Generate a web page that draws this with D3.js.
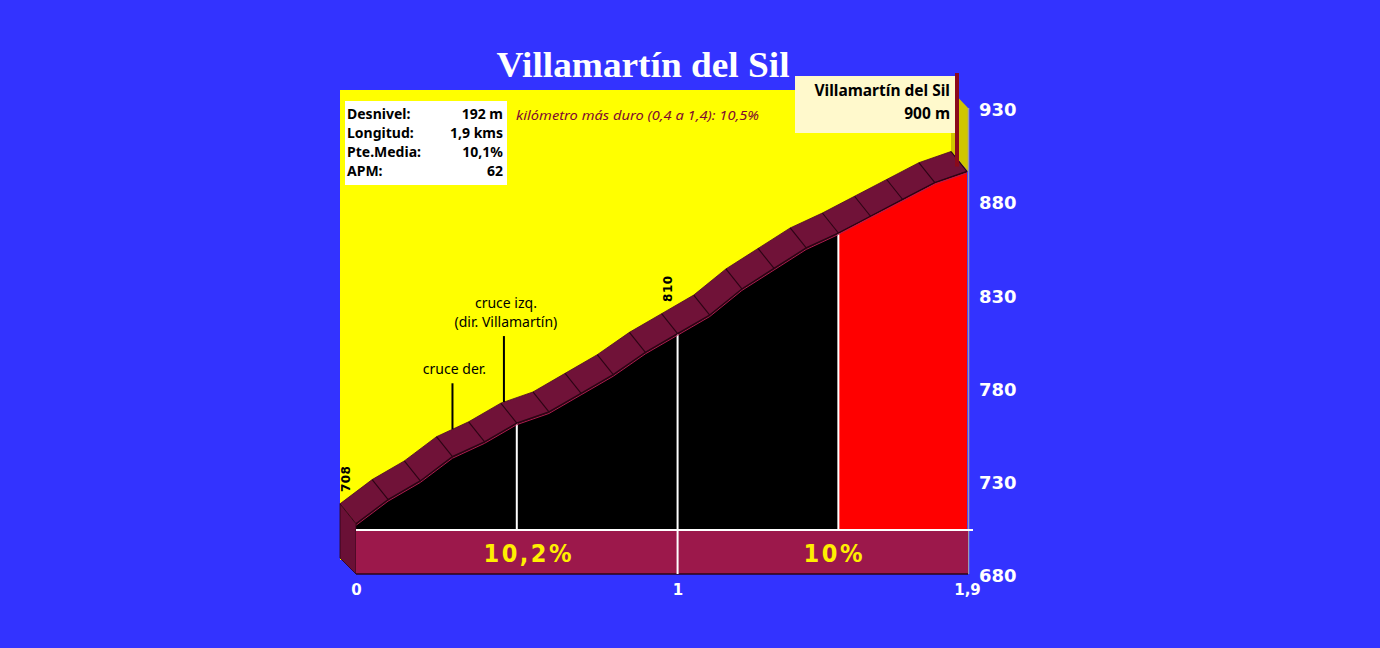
<!DOCTYPE html>
<html>
<head>
<meta charset="utf-8">
<script src="https://cdn.jsdelivr.net/npm/d3@7"></script>
<style>
  body { margin: 0; background: #3333ff; }
  svg { display: block; }
</style>
</head>
<body>
<svg id="chart" width="1380" height="648"></svg>
<script>
// profile data, every 100 m
var km = [0, 0.1, 0.2, 0.3, 0.4, 0.5, 0.6, 0.7, 0.8, 0.9, 1.0, 1.1, 1.2, 1.3, 1.4, 1.5, 1.6, 1.7, 1.8, 1.9];
var elev = [708, 721, 731, 744, 752, 762, 768, 778, 788, 800, 810, 820, 834, 845, 856, 864, 873, 882, 891, 897];

// coloured stretches of the front face
var segStart = [0, 1.5];
var segEnd = [1.5, 1.9];
var segColors = ['#000000', '#ff0000'];
var dividers = [0.5, 1, 1.5];

// grade labels on the base band
var gradeLabels = ['10,2%', '10%'];
var gradeFrom = [0, 1];
var gradeTo = [1, 1.9];

var yTicks = [680, 730, 780, 830, 880, 930];
var xTicks = [0, 1, 1.9];
var xTickLabels = ['0', '1', '1,9'];

var infoLabels = ['Desnivel:', 'Longitud:', 'Pte.Media:', 'APM:'];
var infoValues = ['192 m', '1,9 kms', '10,1%', '62'];

var noteKm = [0.3, 0.46];
var noteText = [['cruce der.'], ['cruce izq.', '(dir. Villamartín)']];

var markKm = [0, 1];
var markText = ['708', '810'];

var title = 'Villamartín del Sil';
var hardest = 'kilómetro más duro (0,4 a 1,4):  10,5%';
var summitName = 'Villamartín del Sil';
var summitAlt = '900 m';

var svg = d3.select('#chart');

var x = d3.scaleLinear().domain([0, 1.9]).range([356, 967]);
var y = d3.scaleLinear().domain([680, 930]).range([576, 110]);
var elevAt = d3.scaleLinear().domain(km).range(elev);

var dx = -16, dy = -20;
var bandTop = 530;
var bandBottom = y(680) - 2;
var pts = km.map(function(k, i) { return [x(k), y(elev[i])]; });
var last = pts[pts.length - 1];

svg.append('rect').attr('width', 1380).attr('height', 648).attr('fill', '#3333ff');

// back wall
svg.append('rect')
  .attr('x', 340).attr('y', 90)
  .attr('width', last[0] + dx - 340).attr('height', 470)
  .attr('fill', '#ffff00');

svg.append('polygon')
  .attr('points', [[last[0] + dx, 90], [last[0] + 1, 108], [last[0] + 1, last[1]], [last[0] + dx, last[1] + dy]].join(' '))
  .attr('fill', '#cfc600');

// front face areas
var area = d3.area()
  .x(function(d) { return x(d.k); })
  .y0(bandTop)
  .y1(function(d) { return y(d.e); });

segStart.forEach(function(s, i) {
  var seg = km.map(function(k, j) { return { k: k, e: elev[j] }; })
    .filter(function(d) { return d.k >= s - 1e-9 && d.k <= segEnd[i] + 1e-9; });
  svg.append('path')
    .attr('d', area(seg))
    .attr('fill', segColors[i]);
});

dividers.forEach(function(k) {
  svg.append('line')
    .attr('x1', x(k)).attr('x2', x(k))
    .attr('y1', y(elevAt(k))).attr('y2', bandTop)
    .attr('stroke', '#ffffff').attr('stroke-width', 2);
});

svg.append('line')
  .attr('x1', last[0] + 1.5).attr('x2', last[0] + 1.5)
  .attr('y1', 108).attr('y2', bandBottom)
  .attr('stroke', '#9a9ab0').attr('stroke-width', 1.5);

// top strip of the road
var back = pts.map(function(p) { return [p[0] + dx, p[1] + dy]; });
svg.append('polygon')
  .attr('points', pts.concat(back.slice().reverse()).join(' '))
  .attr('fill', '#701238')
  .attr('stroke', '#4a0a26').attr('stroke-width', 0.8);

pts.forEach(function(p, i) {
  if (i === 0) return;
  svg.append('line')
    .attr('x1', p[0]).attr('y1', p[1])
    .attr('x2', back[i][0]).attr('y2', back[i][1])
    .attr('stroke', '#2b0414').attr('stroke-width', 1.1);
});

var line = d3.line();
svg.append('path')
  .attr('d', line(pts))
  .attr('fill', 'none')
  .attr('stroke', '#2b0414').attr('stroke-width', 1.4);
svg.append('path')
  .attr('d', line(pts.map(function(p) { return [p[0], p[1] + 1.5]; })))
  .attr('fill', 'none')
  .attr('stroke', '#b01c50').attr('stroke-width', 1);

// left side
svg.append('polygon')
  .attr('points', [back[0], pts[0], [pts[0][0], bandBottom], [pts[0][0] + dx, bandBottom - 16]].join(' '))
  .attr('fill', '#6a1036')
  .attr('stroke', '#2b0414').attr('stroke-width', 0.8);

// base band
svg.append('rect')
  .attr('x', x(0)).attr('y', bandTop)
  .attr('width', x(1.9) - x(0) + 1).attr('height', bandBottom - bandTop)
  .attr('fill', '#9c184b');
svg.append('line')
  .attr('x1', x(0)).attr('x2', x(1.9) + 1)
  .attr('y1', bandBottom).attr('y2', bandBottom)
  .attr('stroke', '#2b0414').attr('stroke-width', 1.5);
svg.append('line')
  .attr('x1', x(0)).attr('x2', x(1.9) + 6)
  .attr('y1', bandTop).attr('y2', bandTop)
  .attr('stroke', '#ffffff').attr('stroke-width', 2);
svg.append('line')
  .attr('x1', x(1)).attr('x2', x(1))
  .attr('y1', bandTop).attr('y2', bandBottom)
  .attr('stroke', '#ffffff').attr('stroke-width', 2);

gradeLabels.forEach(function(t, i) {
  svg.append('text')
    .attr('x', x((gradeFrom[i] + gradeTo[i]) / 2) + 12)
    .attr('y', bandTop + 32)
    .attr('text-anchor', 'middle')
    .attr('font-family', 'DejaVu Sans Condensed, DejaVu Sans')
    .attr('font-weight', 'bold')
    .attr('font-size', 25)
    .attr('letter-spacing', 2.5)
    .attr('fill', '#ffee00')
    .text(t);
});

// axes
var yAxis = svg.append('g')
  .attr('transform', 'translate(979,0)')
  .call(d3.axisRight(y).tickValues(yTicks).tickSize(0).tickPadding(0));
yAxis.select('.domain').remove();
yAxis.selectAll('text')
  .attr('font-family', 'DejaVu Sans')
  .attr('font-weight', 'bold')
  .attr('font-size', 18)
  .attr('fill', '#ffffff');

var xAxis = svg.append('g')
  .attr('transform', 'translate(0,584)')
  .call(d3.axisBottom(x).tickValues(xTicks).tickSize(0).tickPadding(0)
    .tickFormat(function(d, i) { return xTickLabels[i]; }));
xAxis.select('.domain').remove();
xAxis.selectAll('text')
  .attr('font-family', 'DejaVu Sans')
  .attr('font-weight', 'bold')
  .attr('font-size', 15)
  .attr('fill', '#ffffff');

// rotated altitude marks
markKm.forEach(function(k, i) {
  var bx = x(k) + dx, by = y(elevAt(k)) + dy;
  svg.append('text')
    .attr('transform', 'translate(' + (bx + 6) + ',' + (by - 25) + ') rotate(-90)')
    .attr('text-anchor', 'middle')
    .attr('dy', '0.35em')
    .attr('font-family', 'DejaVu Sans')
    .attr('font-weight', 'bold')
    .attr('font-size', 12)
    .attr('letter-spacing', 0.5)
    .attr('fill', '#000000')
    .text(markText[i]);
});

// notes
var noteLift = [46, 66];
noteKm.forEach(function(k, i) {
  var nx = x(k);
  var by = y(elevAt(x.invert(nx - dx))) + dy;
  var top = by - noteLift[i];
  svg.append('line')
    .attr('x1', nx).attr('x2', nx)
    .attr('y1', top).attr('y2', by)
    .attr('stroke', '#000000').attr('stroke-width', 2);
  var lines = noteText[i];
  lines.forEach(function(t, j) {
    svg.append('text')
      .attr('x', nx + 2)
      .attr('y', top - 9 - (lines.length - 1 - j) * 19)
      .attr('text-anchor', 'middle')
      .attr('font-family', 'Noto Sans')
      .attr('font-size', 14)
      .attr('fill', '#000000')
      .text(t);
  });
});

// info box
svg.append('rect')
  .attr('x', 345).attr('y', 101)
  .attr('width', 162).attr('height', 84)
  .attr('fill', '#ffffff');
infoLabels.forEach(function(t, i) {
  svg.append('text')
    .attr('x', 347).attr('y', 119 + i * 19)
    .attr('font-family', 'Noto Sans')
    .attr('font-weight', 'bold')
    .attr('font-size', 14)
    .attr('fill', '#000000')
    .text(t);
  svg.append('text')
    .attr('x', 503).attr('y', 119 + i * 19)
    .attr('text-anchor', 'end')
    .attr('font-family', 'Noto Sans')
    .attr('font-weight', 'bold')
    .attr('font-size', 14)
    .attr('fill', '#000000')
    .text(infoValues[i]);
});

svg.append('text')
  .attr('x', 516).attr('y', 120)
  .attr('font-family', 'Noto Sans')
  .attr('font-style', 'italic')
  .attr('font-size', 13)
  .attr('textLength', 243)
  .attr('lengthAdjust', 'spacingAndGlyphs')
  .attr('fill', '#800a30')
  .text(hardest);

// title
svg.append('text')
  .attr('x', 643).attr('y', 77)
  .attr('text-anchor', 'middle')
  .attr('font-family', 'Liberation Serif')
  .attr('font-weight', 'bold')
  .attr('font-size', 35)
  .attr('textLength', 293)
  .attr('lengthAdjust', 'spacingAndGlyphs')
  .attr('fill', '#ffffff')
  .text(title);

// summit label and flag
svg.append('rect')
  .attr('x', 795).attr('y', 76)
  .attr('width', 160).attr('height', 57)
  .attr('fill', '#fff9cc');
svg.append('text')
  .attr('x', 950).attr('y', 96)
  .attr('text-anchor', 'end')
  .attr('font-family', 'Noto Sans')
  .attr('font-weight', 'bold')
  .attr('font-size', 15.5)
  .attr('fill', '#000000')
  .text(summitName);
svg.append('text')
  .attr('x', 950).attr('y', 119)
  .attr('text-anchor', 'end')
  .attr('font-family', 'Noto Sans')
  .attr('font-weight', 'bold')
  .attr('font-size', 15.5)
  .attr('fill', '#000000')
  .text(summitAlt);
svg.append('line')
  .attr('x1', last[0] - 10).attr('x2', last[0] - 10)
  .attr('y1', 73).attr('y2', last[1] - 5)
  .attr('stroke', '#8b0a1a').attr('stroke-width', 4);
</script>
</body>
</html>
